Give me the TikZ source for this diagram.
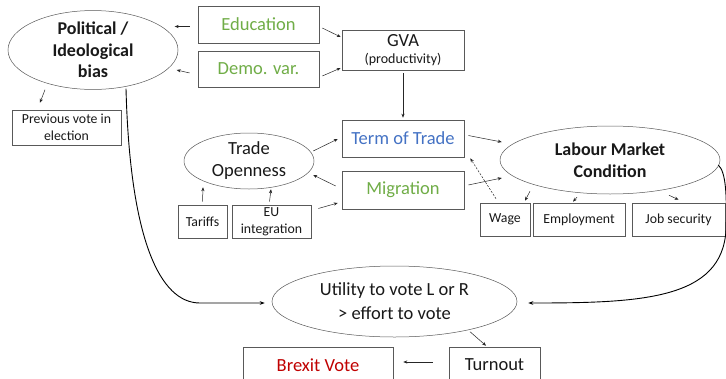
\documentclass[tikz,border=0pt]{standalone}
\usepackage{fontspec}
\setmainfont{Carlito}
\usetikzlibrary{arrows.meta,shapes.geometric,calc}
\definecolor{grn}{HTML}{70AD47}
\definecolor{blu}{HTML}{4472C4}
\definecolor{rd}{HTML}{C00000}
\definecolor{edge}{HTML}{595959}
\begin{document}
\begin{tikzpicture}[x=1pt,y=-1pt,
  box/.style={draw=edge,line width=0.6pt,rectangle,inner sep=0pt,align=center,text=black!90},
  ell/.style={draw=edge,line width=0.5pt,ellipse,inner sep=0pt,align=center,text=black!90},
  big/.style={font=\fontsize{18.5}{22}\selectfont},
  small/.style={font=\fontsize{13.8}{17}\selectfont},
  arr/.style={-{Stealth[length=4pt,width=3.2pt]},line width=0.5pt,black!85},
  curv/.style={-{Stealth[length=5pt,width=3.6pt]},line width=0.9pt,black}]
\clip (0,0) rectangle (726,378);
\fill[white] (0,0) rectangle (726,378);
% nodes
\node[ell,minimum width=170pt,minimum height=78pt,font=\bfseries\fontsize{18}{21.5}\selectfont] (pol) at (93,50) {Political /\\Ideological\\bias};
\node[box,big,text=grn,minimum width=121pt,minimum height=37pt] (edu) at (258.5,24.5) {Education};
\node[box,big,text=grn,minimum width=121pt,minimum height=36pt] (demo) at (258.5,69) {Demo. var.};
\node[box,minimum width=122pt,minimum height=40pt] (gva) at (403,50) {{\fontsize{18.5}{20}\selectfont GVA}\\[5pt]{\fontsize{14}{15}\selectfont (productivity)}};
\node[box,small,minimum width=109pt,minimum height=35pt] (prev) at (66.5,127.5) {Previous vote in\\election};
\node[box,big,text=blu,minimum width=122pt,minimum height=37pt] (tot) at (403,138.5) {Term of Trade};
\node[box,big,text=grn,minimum width=122pt,minimum height=38pt] (mig) at (403,190) {Migration};
\node[ell,font=\fontsize{18.5}{22}\selectfont,minimum width=130pt,minimum height=56pt] (to) at (249,161) {Trade\\Openness};
\node[box,small,minimum width=49pt,minimum height=33pt] (tar) at (202.5,221.5) {Tariffs};
\node[box,small,minimum width=79pt,minimum height=33pt] (eu) at (271.5,221.5) {EU\\integration};
\node[ell,font=\bfseries\fontsize{18}{22.5}\selectfont,minimum width=220pt,minimum height=68pt] (lab) at (610,160) {Labour Market\\Condition};
\node[box,small,minimum width=50pt,minimum height=33pt] (wage) at (505,219.5) {Wage};
\node[box,small,minimum width=92pt,minimum height=33pt] (emp) at (579,219.5) {Employment};
\node[box,small,minimum width=93pt,minimum height=33pt] (job) at (678.5,219.5) {Job security};
\node[ell,font=\fontsize{18.5}{24}\selectfont,minimum width=245pt,minimum height=71pt] (util) at (394.5,301.5) {Utility to vote L or R\\> effort to vote};
\node[box,big,text=rd,minimum width=150pt,minimum height=36pt] (brexit) at (318,365) {Brexit Vote};
\node[box,big,minimum width=91pt,minimum height=36pt] (turn) at (494.5,365) {Turnout};
% short arrows
\draw[arr] ($(edu.west)+(-8,2)$) -- ($(edu.west)+(-23,2)$);
\draw[arr] ($(demo.west)+(-8,4)$) -- ($(demo.west)+(-21,1)$);
\draw[arr] ($(edu.east)+(3,3.5)$) -- ($(gva.west)+(-1,-13)$);
\draw[arr] ($(demo.east)+(3,7)$) -- ($(gva.west)+(-1,18)$);
\draw[arr] ($(gva.south)+(0,3)$) -- ($(tot.north)+(0,-2)$);
\draw[arr] ($(pol.south)+(-48,0)$) -- ($(prev.north)+(-26.5,-7)$);
\draw[arr] ($(to.east)+(-1,-10)$) -- ($(tot.west)+(-4,0.5)$);
\draw[arr] ($(mig.west)+(-6,-4)$) -- ($(to.east)+(-1,14)$);
\draw[arr] ($(eu.east)+(7,-13)$) -- ($(mig.west)+(-4,13)$);
\draw[arr] ($(tar.north)+(0,-3)$) -- ($(to.south)+(-46,-2)$);
\draw[arr] ($(eu.north)+(-2,-3)$) -- ($(to.south)+(22,0)$);
\draw[arr] ($(tot.east)+(4,-3)$) -- ($(lab.west)+(2,-18)$);
\draw[arr] ($(mig.east)+(4,-5)$) -- ($(lab.west)+(2,18)$);
\draw[arr,dashed,dash pattern=on 2pt off 1.5pt] ($(wage.north)+(-9,-4)$) -- ($(tot.south east)+(6,1)$);
\draw[arr] ($(lab.south)+(-80,-3)$) -- ($(wage.north)+(20,-2)$);
\draw[arr] ($(lab.south)+(-33,3)$) -- ($(emp.north)+(-6,-1)$);
\draw[arr] ($(lab.south)+(59,1)$) -- ($(job.north)+(0,-3)$);
\draw[arr] ($(turn.north)+(-24.5,-15)$) -- ($(turn.north)+(-8.5,-1)$);
\draw[arr] ($(turn.west)+(-16,-3)$) -- ($(brexit.east)+(10,-3)$);
% long curves
\draw[curv] ($(pol.south)+(33,-1)$) .. controls (130,240) and (160,303) .. (200,303) -- ($(util.west)+(-7,1.5)$);
\draw[curv] ($(lab.east)+(-2,5)$) .. controls (726,172) and (727,195) .. (726,230)
  .. controls (722,300) and (640,303) .. ($(util.east)+(11,1.5)$);
\end{tikzpicture}
\end{document}
